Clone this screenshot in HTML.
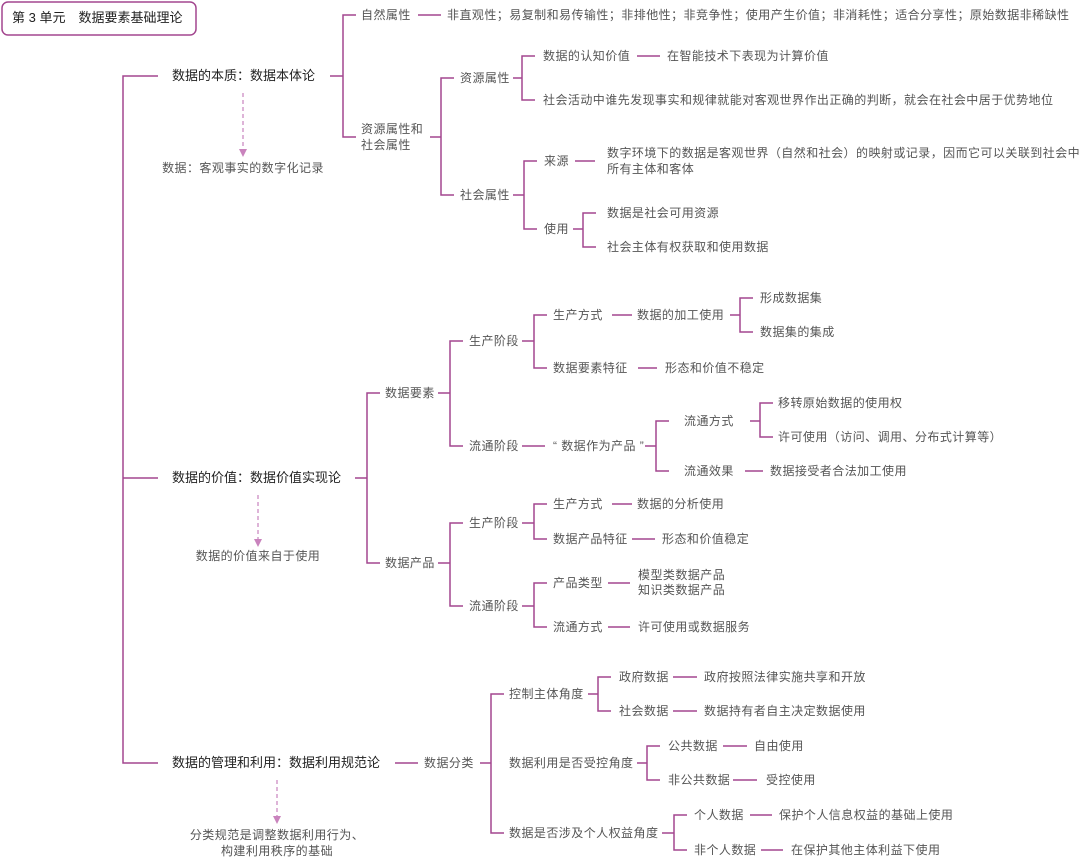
<!DOCTYPE html>
<html><head><meta charset="utf-8"><style>
body{margin:0;width:1080px;height:860px;background:#fff;position:relative;overflow:hidden;font-family:"Liberation Sans","Noto Sans CJK SC",sans-serif;}
.t{position:absolute;font-size:12px;color:#555;line-height:16px;white-space:nowrap;transform:translateY(-8px);letter-spacing:0.45px;}
.m{font-size:13px;color:#222;letter-spacing:0;}
.c{transform:translate(-50%,-8px);text-align:center;}
svg{position:absolute;left:0;top:0;}
</style></head><body>
<svg width="1080" height="860" fill="none" stroke="#a3478f" stroke-width="1.5">
<rect x="2" y="2" width="194" height="33" rx="6"/>
<path d="M158 76H123V763H158M123 478H158"/>
<path d="M330 76H343M356 15H343V137H356M418 15H441"/>
<path d="M430 137H441M454 78H441V195H454"/>
<path d="M513 78H522M535 56H522V100H535M637 56H660"/>
<path d="M513 195H524M537 161H524V229H537M575 161H595"/>
<path d="M573 229H583M596 213H583V247H596"/>
<path d="M355 478H367M380 393H367V563H380"/>
<path d="M438 393H450M463 341H450V446H463"/>
<path d="M522 341H534M547 315H534V368H547M612 315H632M730 315H740M753 298H740V332H753M638 368H657"/>
<path d="M522 446H545M645 446H656M669 421H656V471H669M750 421H760M773 403H760V437H773M745 471H763"/>
<path d="M438 563H450M463 523H450V606H463"/>
<path d="M522 523H534M547 504H534V539H547M612 504H632M632 539H655"/>
<path d="M522 606H534M547 583H534V627H547M608 583H630M608 627H630"/>
<path d="M395 763H418M480 763H491M504 694H491V833H504"/>
<path d="M588 694H598M611 677H598V711H611M673 677H697M673 711H697"/>
<path d="M637 763H647M660 746H647V780H660M723 746H747M733 780H757"/>
<path d="M662 833H674M687 815H674V850H687M750 815H772M761 850H783"/>
<g stroke="#c983bd" stroke-dasharray="4,3" stroke-width="1.2"><path d="M243 93V150M258 495V540M277 780V817"/></g>
<g fill="#c983bd" stroke="none"><path d="M239 149L247 149L243 157ZM254 539L262 539L258 547ZM273 816L281 816L277 824Z"/></g>
</svg>
<div class="t m" style="left:12px;top:18px">第 3 单元　数据要素基础理论</div>
<div class="t m" style="left:172px;top:76px">数据的本质：数据本体论</div>
<div class="t c" style="left:243px;top:168px">数据：客观事实的数字化记录</div>
<div class="t" style="left:361px;top:15px">自然属性</div>
<div class="t" style="left:447px;top:15px">非直观性；易复制和易传输性；非排他性；非竞争性；使用产生价值；非消耗性；适合分享性；原始数据非稀缺性</div>
<div class="t" style="left:361px;top:137px;transform:translateY(-16px)">资源属性和<br>社会属性</div>
<div class="t" style="left:460px;top:78px">资源属性</div>
<div class="t" style="left:460px;top:195px">社会属性</div>
<div class="t" style="left:543px;top:56px">数据的认知价值</div>
<div class="t" style="left:667px;top:56px">在智能技术下表现为计算价值</div>
<div class="t" style="left:543px;top:100px">社会活动中谁先发现事实和规律就能对客观世界作出正确的判断，就会在社会中居于优势地位</div>
<div class="t" style="left:544px;top:161px">来源</div>
<div class="t" style="left:607px;top:161px;transform:translateY(-16px)">数字环境下的数据是客观世界（自然和社会）的映射或记录，因而它可以关联到社会中<br>所有主体和客体</div>
<div class="t" style="left:544px;top:229px">使用</div>
<div class="t" style="left:607px;top:213px">数据是社会可用资源</div>
<div class="t" style="left:607px;top:247px">社会主体有权获取和使用数据</div>

<div class="t m" style="left:172px;top:478px">数据的价值：数据价值实现论</div>
<div class="t c" style="left:258px;top:556px">数据的价值来自于使用</div>
<div class="t" style="left:385px;top:393px">数据要素</div>
<div class="t" style="left:385px;top:563px">数据产品</div>
<div class="t" style="left:469px;top:341px">生产阶段</div>
<div class="t" style="left:469px;top:446px">流通阶段</div>
<div class="t" style="left:553px;top:315px">生产方式</div>
<div class="t" style="left:637px;top:315px">数据的加工使用</div>
<div class="t" style="left:760px;top:298px">形成数据集</div>
<div class="t" style="left:760px;top:332px">数据集的集成</div>
<div class="t" style="left:553px;top:368px">数据要素特征</div>
<div class="t" style="left:665px;top:368px">形态和价值不稳定</div>
<div class="t" style="left:553px;top:446px">“ 数据作为产品 ”</div>
<div class="t" style="left:684px;top:421px">流通方式</div>
<div class="t" style="left:778px;top:403px">移转原始数据的使用权</div>
<div class="t" style="left:778px;top:437px">许可使用（访问、调用、分布式计算等）</div>
<div class="t" style="left:684px;top:471px">流通效果</div>
<div class="t" style="left:770px;top:471px">数据接受者合法加工使用</div>
<div class="t" style="left:469px;top:523px">生产阶段</div>
<div class="t" style="left:553px;top:504px">生产方式</div>
<div class="t" style="left:637px;top:504px">数据的分析使用</div>
<div class="t" style="left:553px;top:539px">数据产品特征</div>
<div class="t" style="left:662px;top:539px">形态和价值稳定</div>
<div class="t" style="left:469px;top:606px">流通阶段</div>
<div class="t" style="left:553px;top:583px">产品类型</div>
<div class="t" style="left:638px;top:583px;transform:translateY(-15px);line-height:15px">模型类数据产品<br>知识类数据产品</div>
<div class="t" style="left:553px;top:627px">流通方式</div>
<div class="t" style="left:638px;top:627px">许可使用或数据服务</div>

<div class="t m" style="left:172px;top:763px">数据的管理和利用：数据利用规范论</div>
<div class="t c" style="left:277px;top:835px;transform:translate(-50%,-8px)">分类规范是调整数据利用行为、<br>构建利用秩序的基础</div>
<div class="t" style="left:424px;top:763px">数据分类</div>
<div class="t" style="left:509px;top:694px">控制主体角度</div>
<div class="t" style="left:619px;top:677px">政府数据</div>
<div class="t" style="left:704px;top:677px">政府按照法律实施共享和开放</div>
<div class="t" style="left:619px;top:711px">社会数据</div>
<div class="t" style="left:704px;top:711px">数据持有者自主决定数据使用</div>
<div class="t" style="left:509px;top:763px">数据利用是否受控角度</div>
<div class="t" style="left:668px;top:746px">公共数据</div>
<div class="t" style="left:754px;top:746px">自由使用</div>
<div class="t" style="left:668px;top:780px">非公共数据</div>
<div class="t" style="left:766px;top:780px">受控使用</div>
<div class="t" style="left:509px;top:833px">数据是否涉及个人权益角度</div>
<div class="t" style="left:694px;top:815px">个人数据</div>
<div class="t" style="left:779px;top:815px">保护个人信息权益的基础上使用</div>
<div class="t" style="left:694px;top:850px">非个人数据</div>
<div class="t" style="left:791px;top:850px">在保护其他主体利益下使用</div>
</body></html>
